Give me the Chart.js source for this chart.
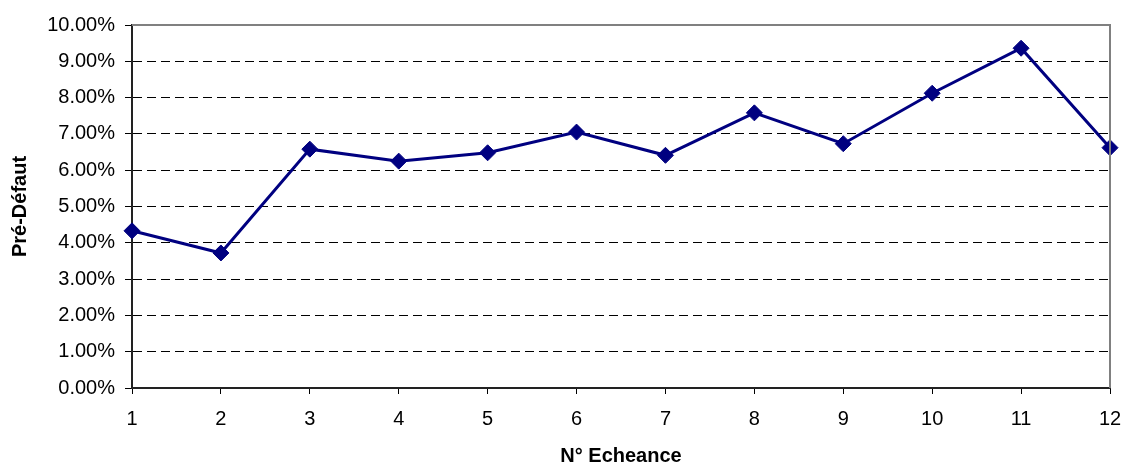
<!DOCTYPE html>
<html>
<head>
<meta charset="utf-8">
<script src="https://cdn.jsdelivr.net/npm/chart.js@4/dist/chart.umd.min.js"></script>
<style>
  html, body { margin: 0; padding: 0; background: #fff; }
  #wrap { width: 1125px; height: 465px; position: relative; }
</style>
</head>
<body>
<div id="wrap"><canvas id="chart" width="1125" height="465"></canvas></div>
<script>
// Échéances (x axis) and pre-default rate in percent (y axis)
const echeances = ['1', '2', '3', '4', '5', '6', '7', '8', '9', '10', '11', '12'];
const preDefaut = [4.33, 3.72, 6.58, 6.25, 6.48, 7.05, 6.41, 7.58, 6.73, 8.12, 9.36, 6.62];
const yMin = 0, yMax = 10, yStep = 1;
const xTitle = 'N° Echeance';
const yTitle = 'Pré-Défaut';

const FONT = "'Liberation Sans', Arial, sans-serif";

// Grey frame on the top and right side of the plot area
const framePlugin = {
  id: 'frame',
  afterDraw(chart) {
    const { ctx, chartArea: a } = chart;
    ctx.save();
    ctx.strokeStyle = '#808080';
    ctx.lineWidth = 2;
    ctx.beginPath();
    ctx.moveTo(a.left, a.top);
    ctx.lineTo(a.right, a.top);
    ctx.lineTo(a.right, a.bottom);
    ctx.stroke();
    ctx.restore();
  }
};

new Chart(document.getElementById('chart'), {
  type: 'line',
  data: {
    labels: echeances,
    datasets: [{
      data: preDefaut,
      borderColor: '#000080',
      backgroundColor: '#000080',
      borderWidth: 3,
      pointStyle: 'rectRot',
      pointRadius: 8,
      pointBorderWidth: 1,
      pointBackgroundColor: '#000080',
      pointBorderColor: '#000080',
      tension: 0,
      clip: false
    }]
  },
  options: {
    responsive: false,
    animation: false,
    layout: { padding: { top: 25, right: 15, left: 0, bottom: 0 } },
    plugins: { legend: { display: false }, tooltip: { enabled: false } },
    scales: {
      x: {
        type: 'category',
        offset: false,
        grid: {
          drawOnChartArea: false,
          drawTicks: true,
          tickLength: 6,
          tickColor: '#000',
          tickWidth: 1
        },
        border: { display: true, color: '#222', width: 2 },
        ticks: {
          color: '#000',
          font: { family: FONT, size: 20 },
          padding: 13,
          maxRotation: 0,
          autoSkip: false
        },
        title: {
          display: true,
          text: xTitle,
          color: '#000',
          font: { family: FONT, size: 20, weight: 'bold', lineHeight: 1 },
          padding: { top: 0, bottom: -1 }
        },
        afterFit(scale) {
          scale.height = 77;
          scale.paddingLeft = 0;
          scale.paddingRight = 0;
        }
      },
      y: {
        min: yMin,
        max: yMax,
        grid: {
          drawOnChartArea: true,
          drawTicks: true,
          tickLength: 7,
          tickColor: '#000',
          tickWidth: 1,
          lineWidth: 1,
          color: (c) => (c.tick && (c.tick.value === yMin || c.tick.value === yMax)) ? 'rgba(0,0,0,0)' : '#000'
        },
        border: { display: true, color: '#222', width: 2, dash: [9, 5] },
        ticks: {
          stepSize: yStep,
          color: '#000',
          font: { family: FONT, size: 20 },
          padding: 10,
          callback: (v) => Number(v).toFixed(2) + '%'
        },
        title: {
          display: true,
          text: yTitle,
          color: '#000',
          font: { family: FONT, size: 20, weight: 'bold', lineHeight: 1.2 },
          padding: { top: 8, bottom: 0 }
        },
        afterFit(scale) { scale.width = 132; }
      }
    }
  },
  plugins: [framePlugin]
});
</script>
</body>
</html>
